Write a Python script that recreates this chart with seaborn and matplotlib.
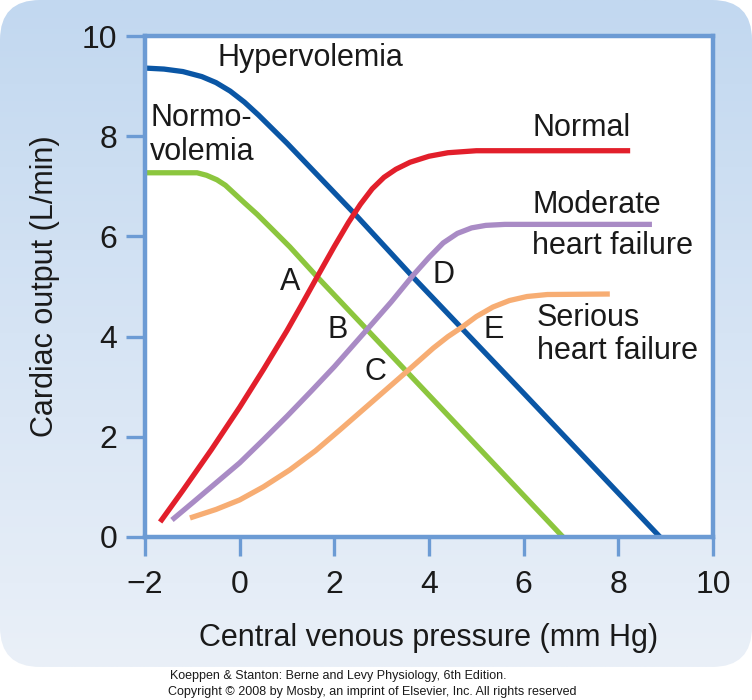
import numpy as np
import pandas as pd
import matplotlib
matplotlib.use("Agg")
import matplotlib.pyplot as plt
from matplotlib.patches import FancyBboxPatch
import seaborn as sns

# ---------------- data ----------------
hyper_x = [-2.0, -1.6, -1.2, -0.8, -0.5, -0.2, 0.1, 0.4, 0.7, 1.0, 2.48, 3.66, 6.0, 8.88]
hyper_y = [9.36, 9.34, 9.29, 9.19, 9.07, 8.90, 8.68, 8.42, 8.14, 7.86, 6.40, 5.19, 2.87, 0.0]

normo_x = [-2.0, -0.9, -0.7, -0.48, -0.3, -0.14, 0.1, 0.37, 0.7, 1.06, 1.63, 2.69, 3.54, 6.83]
normo_y = [7.27, 7.27, 7.22, 7.13, 7.02, 6.88, 6.67, 6.44, 6.13, 5.79, 5.20, 4.14, 3.29, 0.0]

normal_x = [-1.68, -1.2, -0.6, 0.0, 0.5, 1.0, 1.3, 1.63, 2.0, 2.3, 2.55, 2.8, 3.05,
            3.3, 3.6, 4.0, 4.4, 5.0, 8.25]
normal_y = [0.30, 0.93, 1.74, 2.59, 3.34, 4.12, 4.62, 5.18, 5.80, 6.28, 6.64, 6.95, 7.18,
            7.34, 7.48, 7.60, 7.67, 7.71, 7.71]

moderate_x = [-1.43, -1.0, -0.5, 0.0, 0.5, 1.0, 1.5, 2.0, 2.69, 3.2, 3.66, 4.0, 4.3,
              4.6, 4.9, 5.2, 5.6, 8.71]
moderate_y = [0.34, 0.68, 1.08, 1.48, 1.94, 2.41, 2.90, 3.40, 4.14, 4.69, 5.22, 5.58, 5.87,
              6.06, 6.17, 6.22, 6.24, 6.24]

serious_x = [-1.05, -0.5, 0.0, 0.5, 1.06, 1.6, 2.12, 2.8, 3.54, 4.09, 4.4, 4.7, 5.0,
             5.35, 5.7, 6.07, 6.5, 7.82]
serious_y = [0.38, 0.55, 0.74, 1.00, 1.34, 1.72, 2.14, 2.70, 3.31, 3.77, 4.00, 4.19, 4.40,
             4.59, 4.72, 4.80, 4.84, 4.85]

curve_names = ["Hypervolemia", "Normovolemia", "Normal", "Moderate", "Serious"]
x_ticks = [-2, 0, 2, 4, 6, 8, 10]
y_ticks = [0, 2, 4, 6, 8, 10]

point_labels = ["A", "B", "C", "D", "E"]
point_x = [1.06, 2.08, 2.86, 4.30, 5.37]
point_y = [5.09, 4.13, 3.29, 5.23, 4.13]

# ---------------- build long table ----------------
frames = []
for name, xs, ys in zip(curve_names,
                        [hyper_x, normo_x, normal_x, moderate_x, serious_x],
                        [hyper_y, normo_y, normal_y, moderate_y, serious_y]):
    frames.append(pd.DataFrame({"x": xs, "y": ys, "curve": name}))
df = pd.concat(frames, ignore_index=True)

palette = {"Hypervolemia": "#0a56a5", "Normovolemia": "#8cc63e",
           "Normal": "#e21f2b", "Moderate": "#a98bc5", "Serious": "#f7ad73"}

sns.set_theme(style="white")
plt.rcParams['font.family'] = ['Liberation Sans', 'DejaVu Sans']

W, H = 752, 700
fig = plt.figure(figsize=(W / 100, H / 100), dpi=100)
fig.patch.set_facecolor("white")

# background rounded panel with vertical gradient
ax_bg = fig.add_axes([0, 0, 1, 1], zorder=0)
ax_bg.set_xlim(0, W)
ax_bg.set_ylim(0, H)
ax_bg.axis("off")
top = np.array([0xc2, 0xd8, 0xf0]) / 255
bot = np.array([0xea, 0xf0, 0xf8]) / 255
t = np.linspace(0, 1, 256)[:, None]
grad = (top[None, None, :] * (1 - t[:, :, None]) + bot[None, None, :] * t[:, :, None])
grad = np.repeat(grad, 2, axis=1)
im = ax_bg.imshow(grad, extent=[0, W, 33, H], aspect="auto", origin="upper", zorder=0)
panel = FancyBboxPatch((0, 33), W, H - 33,
                       boxstyle="round,pad=0,rounding_size=40",
                       facecolor="none", edgecolor="none",
                       transform=ax_bg.transData)
ax_bg.add_patch(panel)
im.set_clip_path(panel)

# main axes
L, R, B, T = 145, 713, 537, 36
ax = fig.add_axes([L / W, 1 - B / H, (R - L) / W, (B - T) / H], zorder=2)
ax.set_facecolor("white")

sns.lineplot(data=df, x="x", y="y", hue="curve",
             palette=palette, estimator=None, sort=False, linewidth=3.8,
             legend=False, ax=ax, solid_capstyle="butt", solid_joinstyle="round")

ax.set_xlim(-2, 10)
ax.set_ylim(0, 10)
ax.set_xticks(x_ticks)
ax.set_yticks(y_ticks)
ax.set_xticklabels([("\u2212" + str(-v)) if v < 0 else str(v) for v in x_ticks])
frame_col = "#6c9bd4"
for s in ax.spines.values():
    s.set_visible(True)
    s.set_color(frame_col)
    s.set_linewidth(3.2)
ax.tick_params(axis="both", which="both", direction="out", length=14,
               width=2.4, color=frame_col, labelsize=23, labelcolor="#1a1a1a",
               pad=6)
ax.tick_params(axis="x", pad=10, bottom=True)
ax.tick_params(axis="y", left=True)

ax.set_xlabel("Central venous pressure (mm Hg)", fontsize=22, color="#1a1a1a",
              labelpad=16)
ax.set_ylabel("Cardiac output (L/min)", fontsize=22, color="#1a1a1a",
              labelpad=16)

txt = dict(fontsize=22, color="#1a1a1a", va="center", ha="left")
ax.text(-0.46, 9.56, "Hypervolemia", **txt)
ax.text(-1.89, 8.02, "Normo-\nvolemia", linespacing=1.2, **txt)
ax.text(6.18, 8.16, "Normal", **txt)
ax.text(6.18, 6.22, "Moderate\nheart failure", linespacing=1.5, **txt)
ax.text(6.28, 4.04, "Serious\nheart failure", linespacing=1.15, **txt)
for lab, px, py in zip(point_labels, point_x, point_y):
    ax.text(px, py, lab, fontsize=22, color="#1a1a1a", ha="center", va="center")

fig.text(170 / W, 1 - 676 / H,
         "Koeppen & Stanton: Berne and Levy Physiology, 6th Edition.",
         fontsize=9, color="#1a1a1a", va="center", ha="left")
fig.text(168 / W, 1 - 692 / H,
         "Copyright \u00a9 2008 by Mosby, an imprint of Elsevier, Inc. All rights reserved",
         fontsize=9, color="#1a1a1a", va="center", ha="left")

fig.savefig("out.png", dpi=100, facecolor="white")
